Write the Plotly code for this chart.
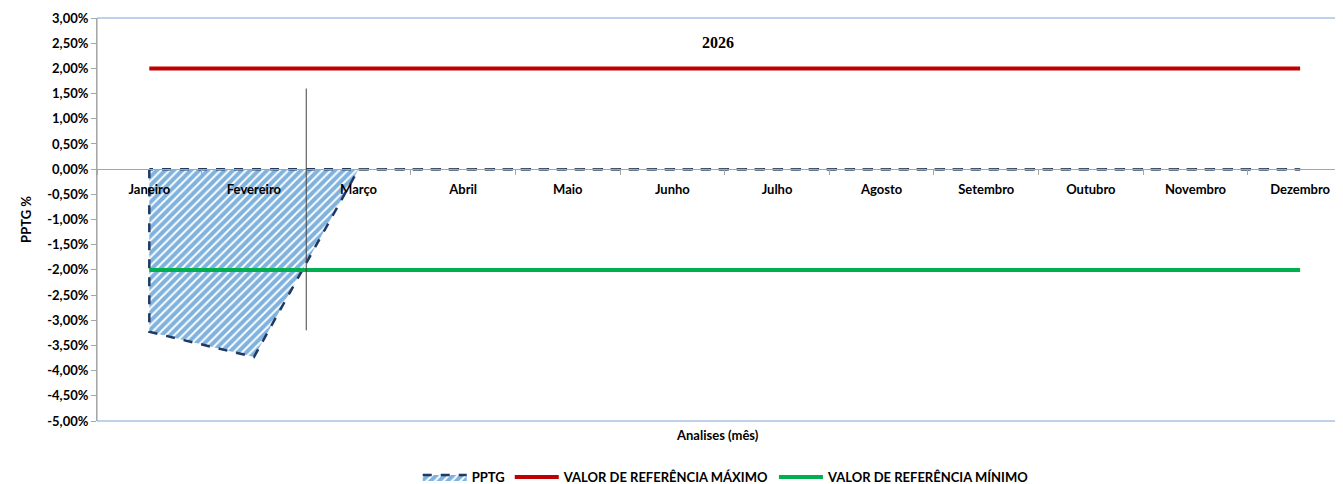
import plotly.graph_objects as go

months = ["Janeiro", "Fevereiro", "Março", "Abril", "Maio", "Junho", "Julho",
          "Agosto", "Setembro", "Outubro", "Novembro", "Dezembro"]
pptg = [-3.23, -3.73, 0, 0, 0, 0, 0, 0, 0, 0, 0, 0]
ref_max = [2.0] * 12
ref_min = [-2.0] * 12
y_ticks = [3.0 - 0.5 * i for i in range(17)]
title_text = "2026"
marker_cat_pos = 1.5          # boundary between Fevereiro and Março
marker_y_range = [1.6, -3.2]  # vertical extent of the marker line (%)

FONT = "Lato"
FS = 13

def fmt(v):
    return f"{v:.2f}".replace(".", ",") + "%"

fig = go.Figure()

px = [months[0]] + months + [months[0]]
py = [0] + pptg + [0]
fig.add_trace(go.Scatter(
    x=px, y=py, mode="lines", fill="toself", name="PPTG",
    fillcolor="rgba(255,255,255,0)",
    fillpattern=dict(shape="/", fgcolor="#0066BB", bgcolor="white",
                     size=6, solidity=0.68),
    line=dict(color="#1F3864", width=2.5, dash="dash"),
    hoverinfo="skip",
))
fig.add_trace(go.Scatter(
    x=months[2:], y=pptg[2:], mode="lines", showlegend=False,
    line=dict(color="#44546A", width=2.5, dash="dash"), hoverinfo="skip"))

fig.add_trace(go.Scatter(x=months, y=ref_max, mode="lines",
                         name="VALOR DE REFERÊNCIA MÁXIMO",
                         line=dict(color="#C00000", width=4)))
fig.add_trace(go.Scatter(x=months, y=ref_min, mode="lines",
                         name="VALOR DE REFERÊNCIA MÍNIMO",
                         line=dict(color="#00B050", width=4)))

fig.add_shape(type="line", xref="x", yref="y",
              x0=marker_cat_pos, x1=marker_cat_pos,
              y0=marker_y_range[0], y1=marker_y_range[1],
              line=dict(color="#404040", width=1))

fig.add_shape(type="rect", xref="paper", yref="paper", x0=0, x1=1.01, y0=0, y1=1,
              line=dict(color="#7FA3D6", width=1), layer="below")

fig.update_layout(
    width=1335, height=476,
    margin=dict(l=89, r=0, t=10, b=63, autoexpand=False),
    paper_bgcolor="white", plot_bgcolor="white",
    font=dict(family=FONT, size=FS, color="#000000"),
    showlegend=True,
    legend=dict(orientation="h", x=0.505, xanchor="center", y=-0.139, yanchor="middle",
                font=dict(family=FONT, size=FS, color="#000", weight="bold"),
                itemwidth=44, traceorder="normal"),
    annotations=[
        dict(text="<b>" + title_text + "</b>", xref="paper", yref="paper",
             x=0.498, y=0.938, yanchor="middle", showarrow=False,
             font=dict(family="Liberation Serif", size=16, color="#000")),
        dict(text="<b>Analises (mês)</b>", xref="paper", yref="paper",
             x=0.498, y=-0.035, yanchor="middle", showarrow=False,
             font=dict(family=FONT, size=FS, color="#000")),
    ],
)

fig.update_xaxes(
    type="category", categoryorder="array", categoryarray=months,
    range=[-0.5, 11.41], automargin=False,
    anchor="free", position=0.625,
    showline=True, linecolor="#A6A6A6", linewidth=1,
    ticks="outside", tickson="boundaries", ticklen=5, tickcolor="#A6A6A6",
    tickvals=months, ticktext=months,
    tickfont=dict(family=FONT, size=FS, color="#000", weight="bold"),
    ticklabelstandoff=8,
    showgrid=False, zeroline=False,
)
fig.update_yaxes(
    range=[-5, 3], automargin=False,
    tickvals=y_ticks, ticktext=[fmt(v) for v in y_ticks],
    tickfont=dict(family=FONT, size=FS, color="#000", weight="bold"),
    ticks="outside", ticklen=5, tickcolor="#A6A6A6",
    showline=True, linecolor="#A6A6A6", linewidth=1,
    showgrid=False, zeroline=False,
    title=dict(text="PPTG %", font=dict(family=FONT, size=FS, color="#000", weight="bold"),
               standoff=12),
)

fig.write_html("out.html")
